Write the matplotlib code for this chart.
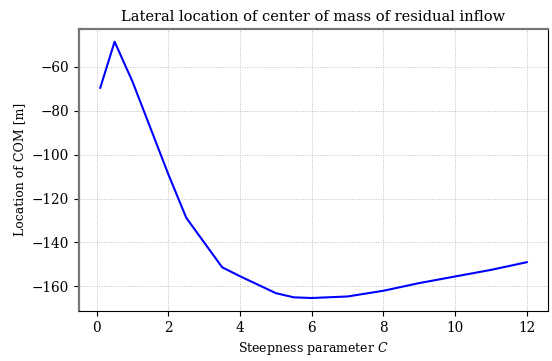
import matplotlib.pyplot as plt

plt.rcParams['font.family'] = 'DejaVu Serif'
plt.rcParams['mathtext.fontset'] = 'dejavuserif'
plt.rcParams['font.size'] = 9

steepness = [0.1, 0.5, 1, 2, 2.5, 3.5, 4, 5, 5.5, 6, 7, 8, 9, 10, 11, 12]
com_location = [-69.6, -48.6, -66.8, -109.0, -128.8, -151.3, -155.4, -163.1,
                -165.0, -165.3, -164.6, -162.0, -158.5, -155.5, -152.5, -149.0]

fig = plt.figure(figsize=(5.52, 3.61), dpi=100)
ax = fig.add_axes([0.143, 0.139, 0.850, 0.781])

ax.plot(steepness, com_location, color='blue', linewidth=1.5)

ax.set_title('Lateral location of center of mass of residual inflow', fontsize=10.5)
ax.set_xlabel('Steepness parameter $C$')
ax.set_ylabel('Location of COM [m]')
ax.set_xticks([0, 2, 4, 6, 8, 10, 12])
ax.tick_params(labelsize=9.8)
ax.grid(True, linestyle=(0, (1, 1.5)), color='#c0c0c0', linewidth=0.7)

ax.spines['left'].set_color('#777777')
ax.spines['left'].set_linewidth(1.6)
ax.spines['top'].set_color('#777777')
ax.spines['top'].set_linewidth(1.6)

fig.savefig('out.png', dpi=100)
